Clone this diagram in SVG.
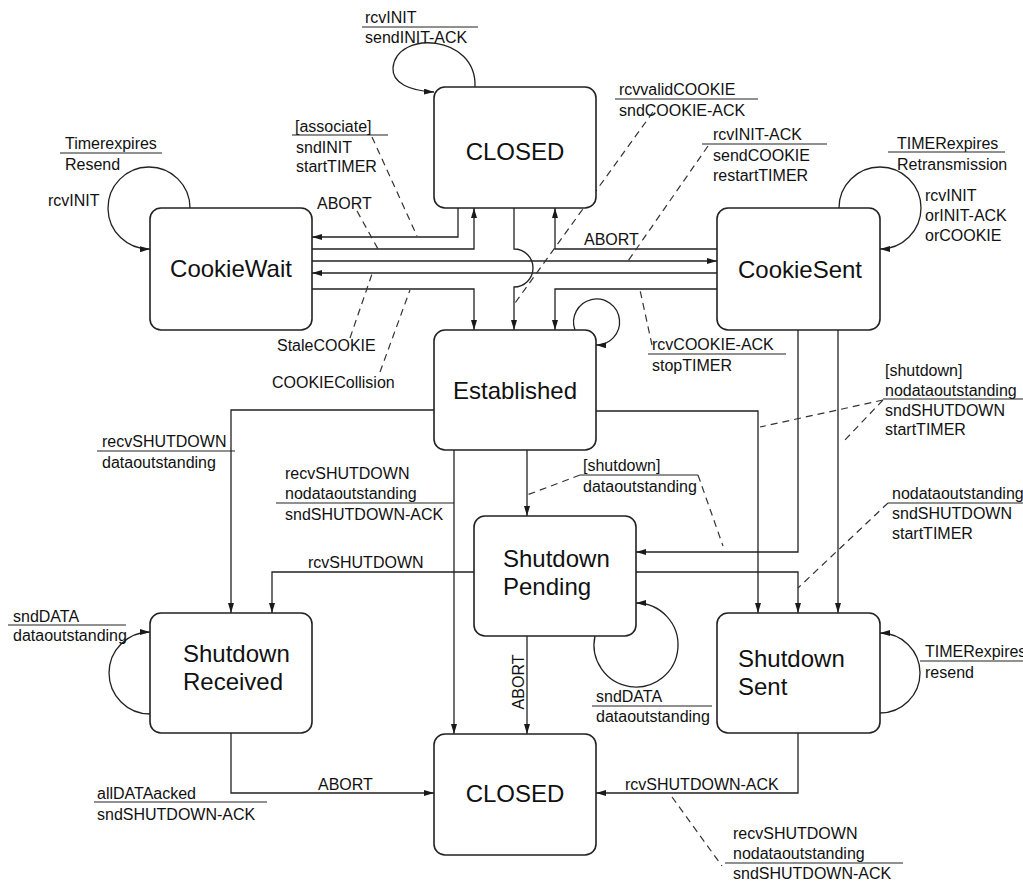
<svg xmlns="http://www.w3.org/2000/svg" width="1023" height="881" viewBox="0 0 1023 881">
  <defs>
    <marker id="arrow" viewBox="0 0 10 6" refX="10" refY="3" markerWidth="10" markerHeight="6" markerUnits="userSpaceOnUse" orient="auto">
      <path d="M0,0 L10,3 L0,6 z" fill="#1a1a1a"/>
    </marker>
    <style>
      .state rect { fill: #ffffff; stroke: #222; stroke-width: 1.6; }
      .state text { font-family: "Liberation Sans", Arial, sans-serif; font-size: 24px; fill: #111; }
      .edge { fill: none; stroke: #222; stroke-width: 1.3; marker-end: url(#arrow); }
      .note { fill: none; stroke: #333; stroke-width: 1.2; stroke-dasharray: 7 5; }
      .bar { stroke: #222; stroke-width: 1.2; }
      .lbl { font-family: "Liberation Sans", Arial, sans-serif; font-size: 16px; fill: #111; }
    </style>
  </defs>
  <rect width="1023" height="881" fill="#ffffff"/>

  <!-- transitions -->
  <g id="connectors">
    <!-- handshake transitions between CLOSED, CookieWait, CookieSent, Established -->
    <path class="edge" d="M458,208 V237 H312"/>
    <path class="edge" d="M312,249 H474 V208"/>
    <path class="edge" d="M312,261 H717"/>
    <path class="edge" d="M717,273 H312"/>
    <path class="edge" d="M312,289 H474 V330"/>
    <path class="edge" d="M514,208 V249 A19,19 0 0 1 514,287 V330"/>
    <path class="edge" d="M717,249 H555 V208"/>
    <path class="edge" d="M717,289 H555 V330"/>
    <!-- self loops -->
    <path class="edge" d="M475,87 C477,34 396,30 393,68 C392,83 410,91 434,92"/>
    <path class="edge" d="M190,208 A41,41 0 1 0 150,249"/>
    <path class="edge" d="M839,208 A41,41 0 1 1 880,249"/>
    <path class="edge" d="M575,330 A23,23 0 1 1 596,345"/>
    <path class="edge" d="M595,636 A42,42 0 1 0 636,603"/>
    <path class="edge" d="M150,714 A41,41 0 0 1 150,632"/>
    <path class="edge" d="M880,713 A40,40 0 0 0 880,633"/>
    <!-- shutdown transitions -->
    <path class="edge" d="M434,410 H231 V613"/>
    <path class="edge" d="M527,450 V516"/>
    <path class="edge" d="M454,450 V734"/>
    <path class="edge" d="M596,411 H758 V613"/>
    <path class="edge" d="M798,330 V552 H636"/>
    <path class="edge" d="M838,330 V613"/>
    <path class="edge" d="M474,572 H272 V613"/>
    <path class="edge" d="M636,572 H798 V613"/>
    <path class="edge" d="M527,636 V734"/>
    <path class="edge" d="M231,733 V793 H434"/>
    <path class="edge" d="M798,733 V793 H596"/>
    <!-- dashed leader lines from labels to their transitions -->
    <line class="note" x1="372" y1="137" x2="417" y2="236"/>
    <line class="note" x1="357" y1="211" x2="378" y2="249"/>
    <line class="note" x1="350" y1="338" x2="372" y2="274"/>
    <line class="note" x1="380" y1="372" x2="410" y2="290"/>
    <line class="note" x1="653" y1="112" x2="515" y2="303"/>
    <line class="note" x1="708" y1="146" x2="628" y2="261"/>
    <line class="note" x1="652" y1="345" x2="640" y2="290"/>
    <line class="note" x1="580" y1="475" x2="527" y2="495"/>
    <line class="note" x1="698" y1="475" x2="723" y2="546"/>
    <line class="note" x1="883" y1="400" x2="760" y2="427"/>
    <line class="note" x1="883" y1="400" x2="843" y2="442"/>
    <line class="note" x1="888" y1="503" x2="798" y2="588"/>
    <line class="note" x1="672" y1="797" x2="722" y2="866"/>
  </g>

  <!-- states -->
  <g id="closed-top" class="state">
    <rect x="434" y="87" width="162" height="121" rx="11"/>
    <text x="515" y="160" text-anchor="middle">CLOSED</text>
  </g>
  <g id="cookie-wait" class="state">
    <rect x="150" y="208" width="162" height="122" rx="11"/>
    <text x="231" y="277" text-anchor="middle">CookieWait</text>
  </g>
  <g id="cookie-sent" class="state">
    <rect x="717" y="208" width="163" height="122" rx="11"/>
    <text x="800" y="278" text-anchor="middle">CookieSent</text>
  </g>
  <g id="established" class="state">
    <rect x="434" y="330" width="162" height="120" rx="11"/>
    <text x="515" y="399" text-anchor="middle">Established</text>
  </g>
  <g id="shutdown-pending" class="state">
    <rect x="474" y="516" width="162" height="120" rx="11"/>
    <text x="503" y="567">Shutdown</text>
    <text x="503" y="595">Pending</text>
  </g>
  <g id="shutdown-received" class="state">
    <rect x="150" y="613" width="162" height="120" rx="11"/>
    <text x="183" y="662">Shutdown</text>
    <text x="183" y="690">Received</text>
  </g>
  <g id="shutdown-sent" class="state">
    <rect x="717" y="613" width="163" height="120" rx="11"/>
    <text x="738" y="667">Shutdown</text>
    <text x="738" y="695">Sent</text>
  </g>
  <g id="closed-bottom" class="state">
    <rect x="434" y="734" width="162" height="121" rx="11"/>
    <text x="515" y="802" text-anchor="middle">CLOSED</text>
  </g>

  <!-- transition labels: event above the bar, action below -->
  <g id="labels">
    <text class="lbl" x="365" y="23">rcvINIT</text>
    <line class="bar" x1="362" y1="27" x2="478" y2="27"/>
    <text class="lbl" x="365" y="43">sendINIT-ACK</text>

    <text class="lbl" x="65" y="149">Timerexpires</text>
    <line class="bar" x1="60" y1="153" x2="162" y2="153"/>
    <text class="lbl" x="65" y="170">Resend</text>
    <text class="lbl" x="48" y="206">rcvINIT</text>

    <text class="lbl" x="295" y="132">[associate]</text>
    <line class="bar" x1="292" y1="135" x2="388" y2="135"/>
    <text class="lbl" x="296" y="153">sndINIT</text>
    <text class="lbl" x="296" y="172">startTIMER</text>
    <text class="lbl" x="317" y="209">ABORT</text>

    <text class="lbl" x="619" y="95">rcvvalidCOOKIE</text>
    <line class="bar" x1="615" y1="99" x2="758" y2="99"/>
    <text class="lbl" x="619" y="116">sndCOOKIE-ACK</text>

    <text class="lbl" x="713" y="140">rcvINIT-ACK</text>
    <line class="bar" x1="702" y1="144" x2="827" y2="144"/>
    <text class="lbl" x="713" y="161">sendCOOKIE</text>
    <text class="lbl" x="713" y="181">restartTIMER</text>

    <text class="lbl" x="897" y="149">TIMERexpires</text>
    <line class="bar" x1="888" y1="152" x2="1005" y2="152"/>
    <text class="lbl" x="897" y="170">Retransmission</text>
    <text class="lbl" x="925" y="201">rcvINIT</text>
    <text class="lbl" x="925" y="221">orINIT-ACK</text>
    <text class="lbl" x="925" y="241">orCOOKIE</text>

    <text class="lbl" x="584" y="245">ABORT</text>
    <text class="lbl" x="277" y="351">StaleCOOKIE</text>
    <text class="lbl" x="272" y="388">COOKIECollision</text>

    <text class="lbl" x="652" y="350">rcvCOOKIE-ACK</text>
    <line class="bar" x1="648" y1="354" x2="786" y2="354"/>
    <text class="lbl" x="652" y="371">stopTIMER</text>

    <text class="lbl" x="885" y="376">[shutdown]</text>
    <text class="lbl" x="885" y="396">nodataoutstanding</text>
    <line class="bar" x1="883" y1="399" x2="1023" y2="399"/>
    <text class="lbl" x="885" y="416">sndSHUTDOWN</text>
    <text class="lbl" x="885" y="435">startTIMER</text>

    <text class="lbl" x="102" y="447">recvSHUTDOWN</text>
    <line class="bar" x1="97" y1="451" x2="235" y2="451"/>
    <text class="lbl" x="102" y="468">dataoutstanding</text>

    <text class="lbl" x="285" y="479">recvSHUTDOWN</text>
    <text class="lbl" x="285" y="499">nodataoutstanding</text>
    <line class="bar" x1="276" y1="503" x2="454" y2="503"/>
    <text class="lbl" x="285" y="520">sndSHUTDOWN-ACK</text>

    <text class="lbl" x="583" y="471">[shutdown]</text>
    <line class="bar" x1="580" y1="475" x2="698" y2="475"/>
    <text class="lbl" x="583" y="492">dataoutstanding</text>

    <text class="lbl" x="892" y="499">nodataoutstanding</text>
    <line class="bar" x1="888" y1="503" x2="1023" y2="503"/>
    <text class="lbl" x="892" y="519">sndSHUTDOWN</text>
    <text class="lbl" x="892" y="539">startTIMER</text>

    <text class="lbl" x="308" y="568">rcvSHUTDOWN</text>

    <text class="lbl" x="13" y="622">sndDATA</text>
    <line class="bar" x1="8" y1="625" x2="126" y2="625"/>
    <text class="lbl" x="13" y="641">dataoutstanding</text>

    <text class="lbl" x="925" y="657">TIMERexpires</text>
    <line class="bar" x1="920" y1="661" x2="1023" y2="661"/>
    <text class="lbl" x="925" y="678">resend</text>

    <text class="lbl" x="596" y="702">sndDATA</text>
    <line class="bar" x1="592" y1="706" x2="712" y2="706"/>
    <text class="lbl" x="596" y="722">dataoutstanding</text>

    <text class="lbl" transform="translate(524,682) rotate(-90)" text-anchor="middle">ABORT</text>

    <text class="lbl" x="318" y="790">ABORT</text>
    <text class="lbl" x="97" y="799">allDATAacked</text>
    <line class="bar" x1="94" y1="802" x2="267" y2="802"/>
    <text class="lbl" x="97" y="820">sndSHUTDOWN-ACK</text>

    <text class="lbl" x="625" y="790">rcvSHUTDOWN-ACK</text>

    <text class="lbl" x="733" y="839">recvSHUTDOWN</text>
    <text class="lbl" x="733" y="859">nodataoutstanding</text>
    <line class="bar" x1="725" y1="863" x2="903" y2="863"/>
    <text class="lbl" x="733" y="879">sndSHUTDOWN-ACK</text>
  </g>
</svg>
